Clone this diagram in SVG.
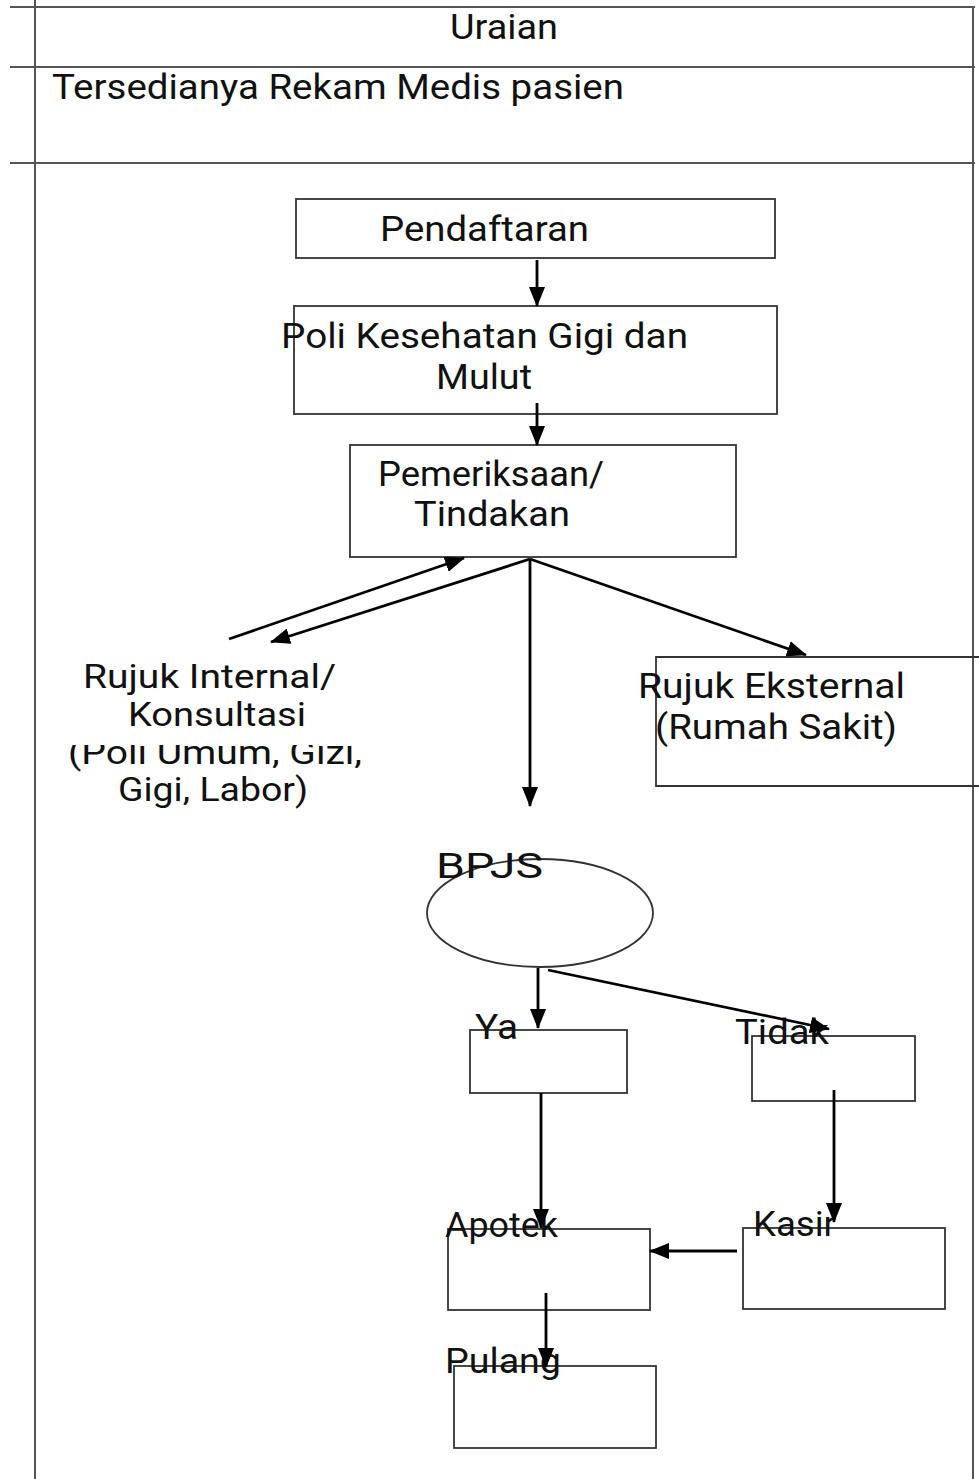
<svg xmlns="http://www.w3.org/2000/svg" width="979" height="1479" viewBox="0 0 979 1479">
<style>
.tbl{stroke:#555;stroke-width:2;fill:none}
.box{stroke:#333;stroke-width:1.8;fill:none}
.t{font-family:Roboto,"Liberation Sans",sans-serif;font-size:35px;fill:#111}
.s{font-family:Roboto,"Liberation Sans",sans-serif;font-size:33px;fill:#111}
.h{font-family:Roboto,"Liberation Sans",sans-serif;font-size:35px;fill:#111}
.ca{stroke:#000;stroke-width:2.8;fill:none;marker-end:url(#ah)}
</style>
<defs>
<marker id="ah" viewBox="0 0 20 16" refX="19" refY="8" markerWidth="20" markerHeight="16" markerUnits="userSpaceOnUse" orient="auto">
<path d="M0,0 L20,8 L0,16 z" fill="#000"/>
</marker>
<clipPath id="cut"><rect x="0" y="745" width="979" height="40"/></clipPath>
</defs>
<rect width="979" height="1479" fill="#fff"/>
<g id="table">
<line class="tbl" x1="35" y1="0" x2="35" y2="1479"/>
<line class="tbl" x1="973" y1="7" x2="973" y2="1479"/>
<line class="tbl" x1="10" y1="7" x2="975" y2="7"/>
<line class="tbl" x1="10" y1="67" x2="975" y2="67"/>
<line class="tbl" x1="10" y1="163" x2="975" y2="163"/>
<text class="h" x="504" y="39" text-anchor="middle" textLength="108" lengthAdjust="spacingAndGlyphs">Uraian</text>
<text class="h" x="52" y="99" textLength="572" lengthAdjust="spacingAndGlyphs">Tersedianya Rekam Medis pasien</text>
</g>
<g id="pendaftaran">
<rect class="box" x="296" y="199" width="479" height="59"/>
<text class="t" x="380" y="241" textLength="209" lengthAdjust="spacingAndGlyphs">Pendaftaran</text>
</g>
<g id="poli">
<rect class="box" x="294" y="306" width="483" height="108"/>
<text class="t" x="281" y="348" textLength="407" lengthAdjust="spacingAndGlyphs">Poli Kesehatan Gigi dan</text>
<text class="t" x="436" y="389" textLength="96" lengthAdjust="spacingAndGlyphs">Mulut</text>
</g>
<g id="pemeriksaan">
<rect class="box" x="350" y="445" width="386" height="112"/>
<text class="t" x="378" y="486" textLength="226" lengthAdjust="spacingAndGlyphs">Pemeriksaan/</text>
<text class="t" x="414" y="526" textLength="156" lengthAdjust="spacingAndGlyphs">Tindakan</text>
</g>
<g id="rujuk-internal">
<text class="s" x="83" y="688" textLength="253" lengthAdjust="spacingAndGlyphs">Rujuk Internal/</text>
<text class="s" x="128" y="726" textLength="178" lengthAdjust="spacingAndGlyphs">Konsultasi</text>
<text class="s" x="68" y="764" textLength="294" lengthAdjust="spacingAndGlyphs" clip-path="url(#cut)">(Poli Umum, Gizi,</text>
<text class="s" x="118" y="801" textLength="190" lengthAdjust="spacingAndGlyphs">Gigi, Labor)</text>
</g>
<g id="rujuk-eksternal">
<path class="box" d="M979,657 H656 V786 H979"/>
<text class="t" x="638" y="698" textLength="267" lengthAdjust="spacingAndGlyphs">Rujuk Eksternal</text>
<text class="t" x="655" y="739" textLength="242" lengthAdjust="spacingAndGlyphs">(Rumah Sakit)</text>
</g>
<g id="bpjs">
<ellipse class="box" cx="540" cy="913" rx="113" ry="54"/>
<text class="t" x="436" y="878" textLength="107" lengthAdjust="spacingAndGlyphs">BPJS</text>
</g>
<g id="ya">
<rect class="box" x="470" y="1030" width="157" height="63"/>
<text class="t" x="475" y="1039" textLength="43" lengthAdjust="spacingAndGlyphs">Ya</text>
</g>
<g id="tidak">
<rect class="box" x="752" y="1036" width="163" height="65"/>
<text class="t" x="735" y="1044" textLength="94" lengthAdjust="spacingAndGlyphs">Tidak</text>
</g>
<g id="apotek">
<rect class="box" x="448" y="1229" width="202" height="81"/>
<text class="t" x="445" y="1237" textLength="113" lengthAdjust="spacingAndGlyphs">Apotek</text>
</g>
<g id="kasir">
<rect class="box" x="743" y="1228" width="202" height="81"/>
<text class="t" x="753" y="1236" textLength="83" lengthAdjust="spacingAndGlyphs">Kasir</text>
</g>
<g id="pulang">
<rect class="box" x="454" y="1366" width="202" height="82"/>
<text class="t" x="445" y="1373" textLength="116" lengthAdjust="spacingAndGlyphs">Pulang</text>
</g>
<g id="connectors">
<line class="ca" x1="537" y1="260" x2="537" y2="306"/>
<line class="ca" x1="537" y1="403" x2="537" y2="445"/>
<line class="ca" x1="530" y1="559" x2="271" y2="642"/>
<line class="ca" x1="229" y1="639" x2="464" y2="558"/>
<line class="ca" x1="530" y1="559" x2="806" y2="655"/>
<line class="ca" x1="530" y1="559" x2="530" y2="806"/>
<line class="ca" x1="538" y1="968" x2="538" y2="1028"/>
<line class="ca" x1="548" y1="970" x2="829" y2="1029"/>
<line class="ca" x1="541" y1="1093" x2="541" y2="1228"/>
<line class="ca" x1="834" y1="1090" x2="834" y2="1222"/>
<line class="ca" x1="737" y1="1251" x2="650" y2="1251"/>
<line class="ca" x1="546" y1="1293" x2="546" y2="1367"/>
</g>
</svg>
